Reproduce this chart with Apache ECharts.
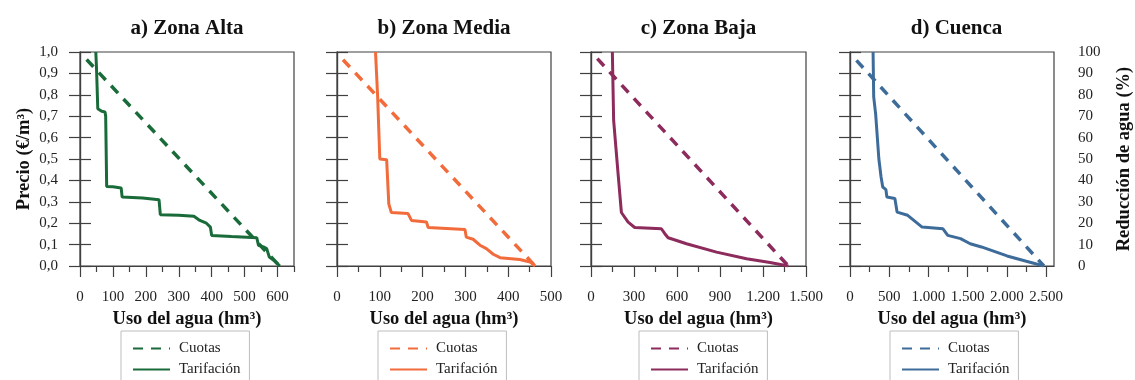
<!DOCTYPE html>
<html>
<head>
<meta charset="utf-8">
<script src="https://cdn.jsdelivr.net/npm/echarts@6/dist/echarts.min.js"></script>
<style>html,body{margin:0;padding:0;background:#fff}#c{width:1135px;height:380px}</style>
</head>
<body>
<div id="c"></div>
<script>
// ---------- DATA ----------
const panelTitles = ['a) Zona Alta', 'b) Zona Media', 'c) Zona Baja', 'd) Cuenca'];
const seriesNames = ['Cuotas', 'Tarifación'];

// [uso del agua (hm3), precio (€/m3)]
const altaCuotas = [[20, 0.965], [606, 0]];
const altaTarif = [[48, 1.0], [50, 0.93], [51, 0.883], [54, 0.735], [56, 0.727], [66, 0.723], [76, 0.72], [78, 0.70], [81, 0.372], [100, 0.37], [125, 0.365], [128, 0.322], [190, 0.318], [240, 0.31], [244, 0.24], [300, 0.237], [346, 0.232], [364, 0.213], [384, 0.20], [396, 0.182], [400, 0.143], [460, 0.138], [537, 0.132], [542, 0.097], [557, 0.089], [567, 0.081], [575, 0.042], [592, 0.023], [607, 0]];

const mediaCuotas = [[14, 0.964], [463, 0]];
const mediaTarif = [[90, 1.0], [95, 0.79], [100, 0.50], [116, 0.497], [121, 0.29], [127, 0.25], [166, 0.245], [174, 0.213], [209, 0.206], [213, 0.18], [299, 0.171], [302, 0.135], [318, 0.125], [334, 0.097], [349, 0.081], [365, 0.055], [381, 0.039], [427, 0.03], [451, 0.019], [463, 0]];

const bajaCuotas = [[44, 0.969], [1377, 0]];
const bajaTarif = [[149, 1.0], [158, 0.68], [189, 0.43], [212, 0.25], [259, 0.205], [305, 0.18], [491, 0.174], [515, 0.151], [538, 0.132], [608, 0.117], [666, 0.104], [876, 0.065], [1085, 0.034], [1249, 0.016], [1377, 0]];

const cuencaCuotas = [[82, 0.961], [2471, 0]];
const cuencaTarif = [[294, 1.0], [302, 0.79], [327, 0.71], [368, 0.50], [396, 0.416], [417, 0.369], [458, 0.357], [470, 0.322], [572, 0.315], [600, 0.252], [735, 0.237], [837, 0.206], [919, 0.182], [1185, 0.174], [1246, 0.143], [1409, 0.128], [1532, 0.104], [1675, 0.089], [2002, 0.047], [2247, 0.022], [2471, 0]];

// axis ranges and ticks
const xMax = [650, 500, 1500, 2600];
const xMajorTicks = [
  [0, 100, 200, 300, 400, 500, 600],
  [0, 100, 200, 300, 400, 500],
  [0, 300, 600, 900, 1200, 1500],
  [0, 500, 1000, 1500, 2000, 2500]
];
const xMinorTicks = [
  [50, 150, 250, 350, 450, 550, 650],
  [50, 150, 250, 350, 450],
  [150, 450, 750, 1050, 1350],
  [250, 750, 1250, 1750, 2250]
];
const priceTicks = [0, 0.1, 0.2, 0.3, 0.4, 0.5, 0.6, 0.7, 0.8, 0.9, 1.0];
const reductionTicks = [0, 10, 20, 30, 40, 50, 60, 70, 80, 90, 100];

// ---------- STYLE / LAYOUT ----------
const colors = ['#1a6b3a', '#f26b3b', '#8c2b5c', '#3e6c9a'];
const grids = [
  {left: 80, top: 52, width: 214, height: 214},
  {left: 337, top: 52, width: 214, height: 214},
  {left: 591, top: 52, width: 215, height: 214},
  {left: 850, top: 52, width: 213, height: 214}
];
const legendLeft = [121, 378, 639, 890];
const FONT = 'Liberation Serif';
const AX = '#404040';
const panels = [
  [altaCuotas, altaTarif],
  [mediaCuotas, mediaTarif],
  [bajaCuotas, bajaTarif],
  [cuencaCuotas, cuencaTarif]
];

function fmtThousands(v) {
  return String(Math.round(v)).replace(/\B(?=(\d{3})+(?!\d))/g, '.');
}

const option = {
  animation: false,
  backgroundColor: '#fff',
  grid: [],
  xAxis: [],
  yAxis: [],
  series: [],
  legend: [],
  graphic: []
};

grids.forEach((g, i) => {
  option.grid.push(Object.assign({show: true, borderColor: AX, borderWidth: 1.2, backgroundColor: 'transparent'}, g));

  // major x axis
  option.xAxis.push({
    type: 'value', gridIndex: i, min: 0, max: xMax[i], position: 'bottom',
    name: 'Uso del agua (hm³)', nameLocation: 'middle', nameGap: 44,
    nameTextStyle: {fontFamily: FONT, fontWeight: 'bold', fontSize: 18.5, color: '#111'},
    axisLine: {show: true, lineStyle: {color: AX, width: 1.2}},
    axisTick: {show: true, length: 11, inside: false, lineStyle: {color: AX, width: 1.2}, customValues: xMajorTicks[i]},
    axisLabel: {show: true, customValues: xMajorTicks[i], margin: 24, fontFamily: FONT, fontSize: 15, color: '#222', formatter: fmtThousands},
    splitLine: {show: false}
  });
  // minor x ticks
  option.xAxis.push({
    type: 'value', gridIndex: i, min: 0, max: xMax[i], position: 'bottom',
    axisLine: {show: false},
    axisTick: {show: true, length: 6, inside: false, lineStyle: {color: AX, width: 1.2}, customValues: xMinorTicks[i]},
    axisLabel: {show: false},
    splitLine: {show: false}
  });
  // left price axis
  option.yAxis.push({
    type: 'value', gridIndex: i, min: 0, max: 1, interval: 0.1, position: 'left',
    name: i === 0 ? 'Precio (€/m³)' : '', nameLocation: 'middle', nameGap: 46, nameRotate: 90,
    nameTextStyle: {fontFamily: FONT, fontWeight: 'bold', fontSize: 18.5, color: '#111'},
    axisLine: {show: true, lineStyle: {color: AX, width: 1.2}},
    axisTick: {show: true, length: 11, inside: false, lineStyle: {color: AX, width: 1.2}, customValues: priceTicks},
    axisLabel: {show: i === 0, margin: 22, fontFamily: FONT, fontSize: 15, color: '#222',
      formatter: v => v.toFixed(1).replace('.', ',')},
    splitLine: {show: false}
  });
  // right reduction axis
  option.yAxis.push({
    type: 'value', gridIndex: i, min: 0, max: 100, interval: 10, position: 'right',
    name: i === 3 ? 'Reducción de agua (%)' : '', nameLocation: 'middle', nameGap: 61, nameRotate: 90,
    nameTextStyle: {fontFamily: FONT, fontWeight: 'bold', fontSize: 18.5, color: '#111'},
    axisLine: {show: true, lineStyle: {color: AX, width: 1.2}},
    axisTick: {show: true, length: 11, inside: false, lineStyle: {color: AX, width: 1.2}, customValues: reductionTicks},
    axisLabel: {show: i === 3, margin: 24, fontFamily: FONT, fontSize: 15, color: '#222'},
    splitLine: {show: false}
  });

  const [cuotas, tarif] = panels[i];
  const pre = 'p' + i + '|';
  option.series.push({
    name: pre + seriesNames[0], type: 'line', xAxisIndex: 2 * i, yAxisIndex: 2 * i,
    data: cuotas, symbol: 'none', z: 2,
    lineStyle: {color: colors[i], width: 3.5, type: [10, 8]},
    itemStyle: {color: colors[i]}
  });
  option.series.push({
    name: pre + seriesNames[1], type: 'line', xAxisIndex: 2 * i, yAxisIndex: 2 * i,
    data: tarif, symbol: 'none', z: 3,
    lineStyle: {color: colors[i], width: 3},
    itemStyle: {color: colors[i]}
  });

  option.legend.push({
    data: [pre + seriesNames[0], pre + seriesNames[1]],
    orient: 'vertical', left: legendLeft[i], top: 331, height: 40,
    itemWidth: 37, itemHeight: 14, itemGap: 6,
    padding: [10, 9, 24, 11],
    borderColor: '#bdbdbd', borderWidth: 1, borderRadius: 0,
    itemStyle: {opacity: 0},
    formatter: name => name.split('|')[1],
    textStyle: {fontFamily: FONT, fontSize: 15, color: '#222', padding: [0, 0, 0, 4]},
    selectedMode: false
  });

  option.graphic.push({
    type: 'text', x: g.left + g.width / 2, y: 29,
    style: {text: panelTitles[i], fontFamily: FONT, fontWeight: 'bold', fontSize: 21, fill: '#111',
      textAlign: 'center', textVerticalAlign: 'middle'}
  });
});

const chart = echarts.init(document.getElementById('c'), null, {renderer: 'canvas'});
chart.setOption(option);
</script>
</body>
</html>
